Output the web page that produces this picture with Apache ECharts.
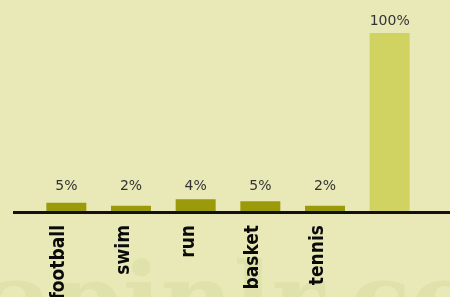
<!DOCTYPE html>
<html>
<head>
<meta charset="utf-8">
<script src="https://cdn.jsdelivr.net/npm/echarts@6/dist/echarts.min.js"></script>
<style>
html, body { margin: 0; padding: 0; background: #e8e9b7; }
#main { width: 450px; height: 297px; }
</style>
</head>
<body>
<div id="main"></div>
<script>
var sports = ['football', 'swim', 'run', 'basket', 'tennis', '']
var shares = [4.6, 2.9, 6.6, 5.5, 2.9, 100]
var shareText = ['5%', '2%', '4%', '5%', '2%', '100%']
var labelLevel = [7, 7, 7, 7, 7, 100]

var myChart = echarts.init(document.getElementById('main'));

myChart.setOption(option = {
    backgroundColor: '#e8e9b7',
    animation: false,
    graphic: [{
        type: 'text',
        left: -12,
        top: 258,
        z: -10,
        style: {
            text: 'apinlr.co',
            font: 'bold 100px "DejaVu Serif"',
            fill: '#e0e2ab',
            letterSpacing: 6
        }
    }, {
        type: 'line',
        shape: {x1: 13, y1: 212.5, x2: 450, y2: 212.5},
        style: {stroke: '#111', lineWidth: 3}
    }],
    grid: {
        left: 34,
        right: 28,
        top: 33,
        bottom: 86,
        containLabel: false,
        outerBoundsMode: 'none'
    },
    xAxis: {
        type: 'category',
        data: sports,
        axisLine: {show: false},
        axisTick: {show: false},
        axisLabel: {
            rotate: 90,
            margin: 14,
            color: '#0a0a0a',
            fontFamily: 'DejaVu Sans Condensed',
            fontWeight: 'bold',
            fontSize: 19,
            verticalAlign: 'bottom',
            lineHeight: 14
        }
    },
    yAxis: {
        type: 'value',
        min: 0,
        max: 100,
        show: false,
        splitLine: {show: false}
    },
    series: [{
        type: 'bar',
        data: shares.map(function (v, i) {
            return {
                value: v,
                itemStyle: {color: i == 5 ? '#d0d262' : '#9b9a0b'}
            }
        }),
        barWidth: 40,
        barGap: '-100%'
    }, {
        type: 'bar',
        data: labelLevel,
        barWidth: 40,
        barGap: '-100%',
        itemStyle: {color: 'rgba(0,0,0,0)'},
        label: {
            show: true,
            position: 'top',
            distance: 5,
            color: '#333',
            fontFamily: 'DejaVu Sans',
            fontSize: 14,
            formatter: function (p) {
                return shareText[p.dataIndex]
            }
        },
        silent: true
    }]
});
</script>
</body>
</html>
